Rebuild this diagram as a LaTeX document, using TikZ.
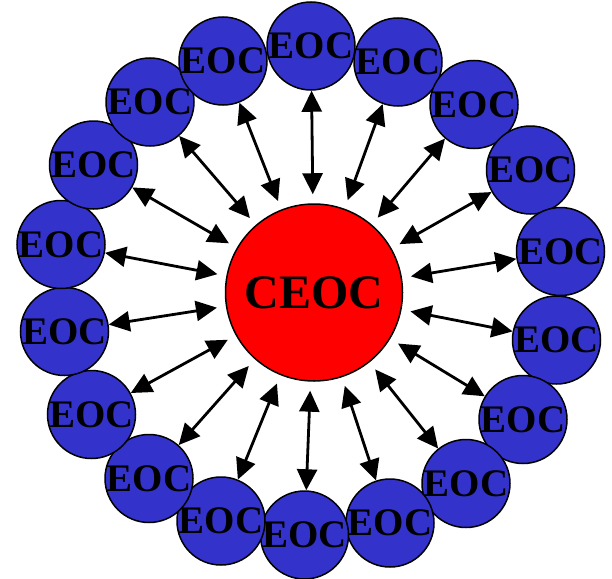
\documentclass[tikz,border=0pt]{standalone}
\usepackage{fontspec}
\setmainfont{Liberation Serif}
\usetikzlibrary{arrows.meta}
\definecolor{eocblue}{HTML}{3333CC}
\begin{document}
\begin{tikzpicture}[x=1pt,y=-1pt,
  eoc/.style={circle,draw=black,line width=1.5pt,fill=eocblue,minimum size=88pt,inner sep=0pt,
    font=\fontsize{39}{40}\selectfont\bfseries},
  ceoc/.style={circle,draw=black,line width=1.5pt,fill=red,minimum size=177pt,inner sep=0pt,
    font=\fontsize{48}{50}\selectfont\bfseries},
  link/.style={{Triangle[length=21pt,width=20pt]}-{Triangle[length=21pt,width=20pt]},
    line width=2.8pt,shorten <=9pt}]
\useasboundingbox (0,0) rectangle (612,578);
\node[ceoc] (C) at (314,292.5) {\makebox[0pt]{CEOC}};
\foreach \i/\x/\y in {1/311/46, 2/398/62, 3/474/104.5, 4/530.5/170, 5/560.5/251.5,
  6/556.5/340, 7/523/419.5, 8/466/483.5, 9/390/523, 10/304.5/535, 11/221/521,
  12/149/478.5, 13/91.5/414.5, 14/64.5/331.5, 15/61/244.5, 16/93.5/165,
  17/150/102, 18/223/61}{
  \node[eoc] (E\i) at (\x,\y) {\makebox[0pt]{EOC}};
  \draw[link] (C) -- (E\i);
}
\end{tikzpicture}
\end{document}
